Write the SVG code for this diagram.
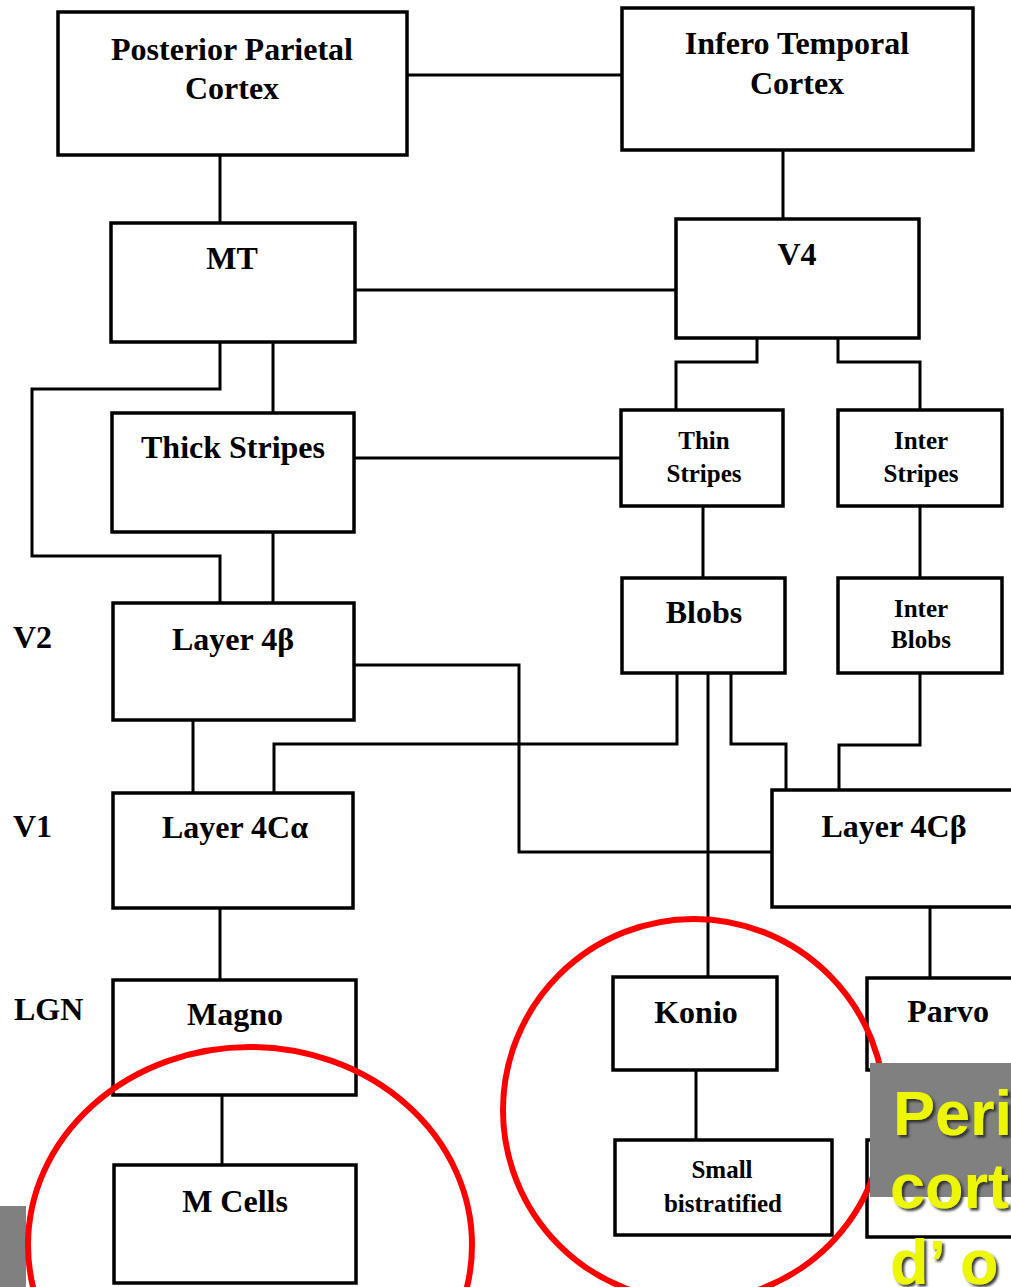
<svg xmlns="http://www.w3.org/2000/svg" width="1011" height="1287" viewBox="0 0 1011 1287">
<defs>
<style>
.box{fill:#fff;stroke:#000;stroke-width:3.5}
.lbl{font-family:"Liberation Serif","Times New Roman",serif;font-weight:bold;font-size:32px;fill:#000;text-anchor:middle}
.sm{font-size:25px}
.side{font-family:"Liberation Serif","Times New Roman",serif;font-weight:bold;font-size:32px;fill:#000}
.con{fill:none;stroke:#000;stroke-width:3}
.ring{fill:none;stroke:#ff0000;stroke-width:6}
.yel{font-family:"Liberation Sans",Arial,sans-serif;font-weight:bold;font-size:63px;fill:#ecf700}
</style>
<filter id="sh" x="-10%" y="-10%" width="130%" height="130%">
<feDropShadow dx="2.5" dy="2.5" stdDeviation="0.8" flood-color="#2a2a2a" flood-opacity="0.9"/>
</filter>
</defs>
<rect width="1011" height="1287" fill="#fff"/>

<g id="connectors">
<path class="con" d="M407,75 H622"/>
<path class="con" d="M220,155 V223"/>
<path class="con" d="M783,150 V219"/>
<path class="con" d="M355,290 H676"/>
<path class="con" d="M273,342 V413"/>
<path class="con" d="M220,342 V389 H32 V556 H220 V603"/>
<path class="con" d="M354,458 H621"/>
<path class="con" d="M273,532 V603"/>
<path class="con" d="M757,338 V362 H676 V410"/>
<path class="con" d="M838,338 V362 H920 V410"/>
<path class="con" d="M703,506 V578"/>
<path class="con" d="M920,506 V578"/>
<path class="con" d="M354,665 H519 V852 H772"/>
<path class="con" d="M193,720 V793"/>
<path class="con" d="M677,673 V744 H274 V793"/>
<path class="con" d="M708,673 V977"/>
<path class="con" d="M731,673 V744 H786 V790"/>
<path class="con" d="M920,673 V745 H839 V790"/>
<path class="con" d="M220,908 V980"/>
<path class="con" d="M930,907 V978"/>
<path class="con" d="M222,1095 V1165"/>
<path class="con" d="M696,1070 V1140"/>
</g>

<g id="ppc"><rect class="box" x="58" y="12" width="349" height="143"/><text class="lbl" x="232" y="60">Posterior Parietal</text><text class="lbl" x="232" y="99">Cortex</text></g>
<g id="itc"><rect class="box" x="622" y="8" width="351" height="142"/><text class="lbl" x="797" y="54">Infero Temporal</text><text class="lbl" x="797" y="94">Cortex</text></g>
<g id="mt"><rect class="box" x="111" y="223" width="244" height="119"/><text class="lbl" x="232" y="269">MT</text></g>
<g id="v4"><rect class="box" x="676" y="219" width="243" height="119"/><text class="lbl" x="797" y="265">V4</text></g>
<g id="thick"><rect class="box" x="112" y="413" width="242" height="119"/><text class="lbl" x="233" y="458">Thick Stripes</text></g>
<g id="thin"><rect class="box" x="621" y="410" width="162" height="96"/><text class="lbl sm" x="704" y="449">Thin</text><text class="lbl sm" x="704" y="482">Stripes</text></g>
<g id="interstripes"><rect class="box" x="838" y="410" width="164" height="96"/><text class="lbl sm" x="921" y="449">Inter</text><text class="lbl sm" x="921" y="482">Stripes</text></g>
<g id="blobs"><rect class="box" x="622" y="578" width="163" height="95"/><text class="lbl" x="704" y="623">Blobs</text></g>
<g id="interblobs"><rect class="box" x="838" y="578" width="164" height="95"/><text class="lbl sm" x="921" y="617">Inter</text><text class="lbl sm" x="921" y="648">Blobs</text></g>
<g id="layer4b"><rect class="box" x="113" y="603" width="241" height="117"/><text class="lbl" x="233" y="650">Layer 4β</text></g>
<g id="layer4ca"><rect class="box" x="113" y="793" width="240" height="115"/><text class="lbl" x="235" y="838">Layer 4Cα</text></g>
<g id="layer4cb"><rect class="box" x="772" y="790" width="250" height="117"/><text class="lbl" x="894" y="837">Layer 4Cβ</text></g>
<g id="magno"><rect class="box" x="113" y="980" width="243" height="115"/><text class="lbl" x="235" y="1025">Magno</text></g>
<g id="konio"><rect class="box" x="613" y="977" width="164" height="93"/><text class="lbl" x="696" y="1023">Konio</text></g>
<g id="parvo"><rect class="box" x="867" y="978" width="155" height="92"/><text class="lbl" x="948" y="1022">Parvo</text></g>
<g id="mcells"><rect class="box" x="114" y="1165" width="242" height="118"/><text class="lbl" x="235" y="1212">M Cells</text></g>
<g id="small"><rect class="box" x="615" y="1140" width="217" height="95"/><text class="lbl sm" x="722" y="1178">Small</text><text class="lbl sm" x="723" y="1212">bistratified</text></g>
<g id="pcells"><rect class="box" x="867" y="1140" width="155" height="97"/></g>

<g id="levels">
<text class="side" x="13" y="648">V2</text>
<text class="side" x="13" y="837">V1</text>
<text class="side" x="14" y="1020">LGN</text>
</g>

<rect x="0" y="1206" width="26" height="81" fill="#808080"/>
<ellipse class="ring" cx="250" cy="1245" rx="222" ry="198"/>
<circle class="ring" cx="694" cy="1110" r="191"/>

<rect x="870" y="1063" width="141" height="134" fill="#808080"/>
<g filter="url(#sh)">
<text class="yel" x="893" y="1135">Peri</text>
<text class="yel" x="890" y="1208">cort</text>
<text class="yel" x="890" y="1284">d’ o</text>
</g>
</svg>
